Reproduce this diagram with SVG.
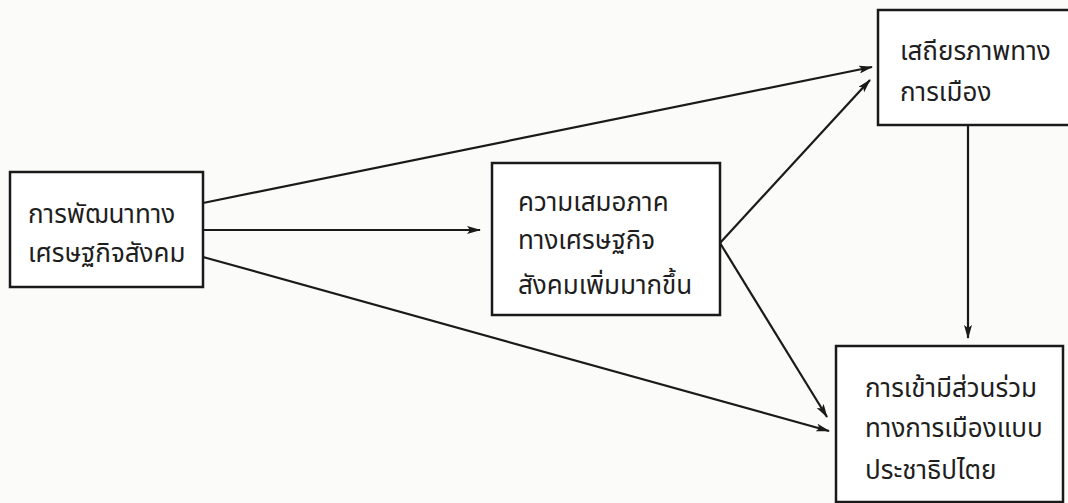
<svg xmlns="http://www.w3.org/2000/svg" width="1068" height="503" viewBox="0 0 1068 503">
<style>
.box{fill:#fff;stroke:#1a1a1a;stroke-width:2.5}
.t{font-family:"Noto Sans Thai","Noto Sans Thai UI","Loma","Garuda","Tlwg Typo","Norasi","Noto Sans","DejaVu Sans",sans-serif;font-size:26px;fill:#1e1e1e}
.c{stroke:#1a1a1a;stroke-width:2.2;fill:none}
</style>
<defs>
<marker id="ah" markerWidth="14" markerHeight="8" refX="13" refY="4" orient="auto" markerUnits="userSpaceOnUse">
<path d="M0,0 L14,4 L0,8 L3,4 Z" fill="#1a1a1a"/>
</marker>
</defs>
<rect width="1068" height="503" fill="#fbfbf9"/>
<g id="connectors">
<line class="c" x1="203" y1="203" x2="872" y2="67" marker-end="url(#ah)"/>
<line class="c" x1="203" y1="230" x2="480" y2="230" marker-end="url(#ah)"/>
<line class="c" x1="203" y1="257" x2="829" y2="431" marker-end="url(#ah)"/>
<line class="c" x1="720" y1="243" x2="870" y2="80" marker-end="url(#ah)"/>
<line class="c" x1="720" y1="243" x2="827" y2="417" marker-end="url(#ah)"/>
<line class="c" x1="968" y1="125" x2="968" y2="338" marker-end="url(#ah)"/>
</g>
<g id="node1">
<rect class="box" x="10" y="172" width="193" height="115"/>
<text class="t" x="28" y="223">การพัฒนาทาง</text>
<text class="t" x="28" y="262">เศรษฐกิจสังคม</text>
</g>
<g id="node2">
<rect class="box" x="492" y="163" width="228" height="152"/>
<text class="t" x="518" y="211">ความเสมอภาค</text>
<text class="t" x="518" y="249">ทางเศรษฐกิจ</text>
<text class="t" x="518" y="294">สังคมเพิ่มมากขึ้น</text>
</g>
<g id="node3">
<rect class="box" x="878" y="10" width="200" height="115"/>
<text class="t" x="900" y="60">เสถียรภาพทาง</text>
<text class="t" x="900" y="101">การเมือง</text>
</g>
<g id="node4">
<rect class="box" x="836" y="346" width="227" height="156"/>
<text class="t" x="865" y="397">การเข้ามีส่วนร่วม</text>
<text class="t" x="865" y="437">ทางการเมืองแบบ</text>
<text class="t" x="865" y="479">ประชาธิปไตย</text>
</g>
</svg>
